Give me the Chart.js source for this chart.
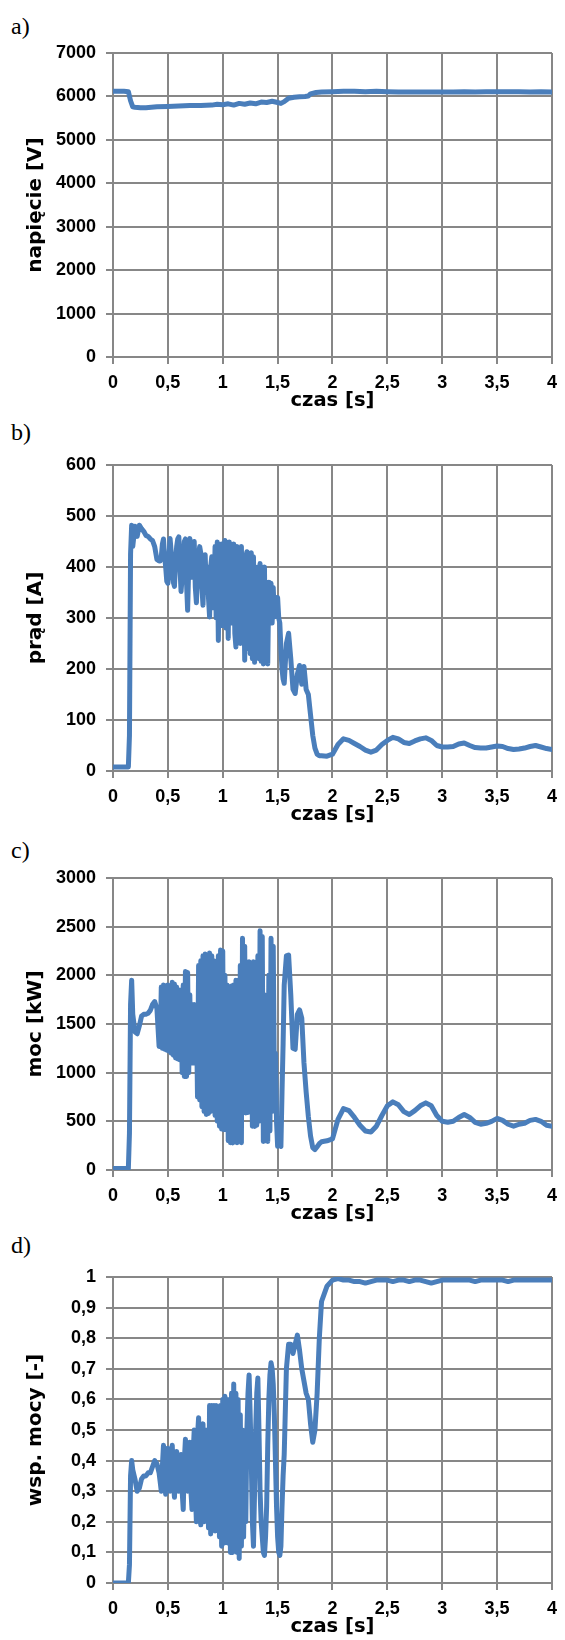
<!DOCTYPE html>
<html>
<head>
<meta charset="utf-8">
<script src="https://cdn.jsdelivr.net/npm/chart.js@4.4.0/dist/chart.umd.min.js"></script>
<style>
body { margin: 0; background: #fff; width: 565px; height: 1640px; position: relative; }
canvas { position: absolute; left: 0; }
.lbl { position: absolute; left: 11px; font-family: 'Liberation Serif'; font-size: 24px; line-height: 24px; color: #000; }
</style>
</head>
<body>
<div class="lbl" style="top:14px">a)</div>
<div class="lbl" style="top:420px">b)</div>
<div class="lbl" style="top:838px">c)</div>
<div class="lbl" style="top:1233px">d)</div>
<canvas id="napiecie" width="565" height="394" style="top:23px"></canvas>
<canvas id="prad" width="565" height="396" style="top:435px"></canvas>
<canvas id="moc" width="565" height="382" style="top:848px"></canvas>
<canvas id="wsp" width="565" height="396" style="top:1247px"></canvas>
<script>
// napiecie - own time points (smooth curve)
var czasU = [0, 0.05, 0.1, 0.14, 0.16, 0.18, 0.2, 0.25, 0.3, 0.4,
    0.5, 0.6, 0.7, 0.8, 0.9, 0.95, 1.0, 1.05, 1.1, 1.15,
    1.2, 1.25, 1.3, 1.35, 1.4, 1.45, 1.5, 1.53, 1.56, 1.6,
    1.65, 1.7, 1.75, 1.78, 1.8, 1.85, 1.9, 2.0, 2.1, 2.2,
    2.3, 2.4, 2.5, 2.6, 2.7, 2.8, 2.9, 3.0, 3.1, 3.2,
    3.3, 3.4, 3.5, 3.6, 3.7, 3.8, 3.9, 4.0];
var napiecie = [6120, 6120, 6120, 6110, 5900, 5760, 5750, 5740, 5740, 5760,
    5770, 5780, 5790, 5790, 5800, 5820, 5810, 5830, 5800, 5840,
    5820, 5850, 5830, 5870, 5860, 5890, 5860, 5840, 5880, 5960,
    5980, 5990, 6000, 6010, 6060, 6090, 6100, 6110, 6120, 6120,
    6110, 6120, 6110, 6100, 6100, 6100, 6100, 6100, 6100, 6110,
    6100, 6110, 6110, 6110, 6110, 6100, 6110, 6100];

// shared time points for prad, moc, wsp
var czas = [0, 0.05, 0.1, 0.14, 0.15, 0.16, 0.17, 0.18,
    0.20, 0.22, 0.24, 0.26, 0.28, 0.30, 0.32, 0.34, 0.36, 0.38, 0.40, 0.42,
    0.43, 0.44, 0.45, 0.46, 0.47, 0.48, 0.49, 0.50, 0.51, 0.52,
    0.53, 0.54, 0.55, 0.56, 0.57, 0.58, 0.59, 0.60, 0.61, 0.62,
    0.63, 0.64, 0.65, 0.66, 0.67, 0.68, 0.69, 0.70, 0.71, 0.72,
    0.73, 0.74, 0.75, 0.76, 0.77, 0.78, 0.79, 0.80, 0.81, 0.82,
    0.83, 0.84, 0.85, 0.86, 0.87, 0.88, 0.89, 0.90, 0.91, 0.92,
    0.93, 0.94, 0.95, 0.96, 0.97, 0.98, 0.99, 1.00, 1.01, 1.02,
    1.03, 1.04, 1.05, 1.06, 1.07, 1.08, 1.09, 1.10, 1.11, 1.12,
    1.13, 1.14, 1.15, 1.16, 1.17, 1.18, 1.19, 1.20, 1.21, 1.22,
    1.23, 1.24, 1.25, 1.26, 1.27, 1.28, 1.29, 1.30, 1.31, 1.32,
    1.33, 1.34, 1.35, 1.36, 1.37, 1.38, 1.39, 1.40, 1.41, 1.42,
    1.43, 1.44, 1.45, 1.46, 1.47, 1.48, 1.49, 1.50, 1.51, 1.52,
    1.53, 1.54, 1.55,
    1.56, 1.58, 1.60, 1.62, 1.64, 1.66, 1.68, 1.70, 1.72, 1.74,
    1.76, 1.78, 1.80, 1.82, 1.84, 1.86, 1.88, 1.90,
    1.95, 2.00, 2.05, 2.10, 2.15, 2.20, 2.25, 2.30, 2.35, 2.40,
    2.45, 2.50, 2.55, 2.60, 2.65, 2.70, 2.75, 2.80, 2.85, 2.90,
    2.95, 3.00, 3.05, 3.10, 3.15, 3.20, 3.25, 3.30, 3.35, 3.40,
    3.45, 3.50, 3.55, 3.60, 3.65, 3.70, 3.75, 3.80, 3.85, 3.90,
    3.95, 4.00];

var prad = [8, 8, 8, 8, 70, 425, 482, 440,
    480, 460, 482, 475, 470, 462, 460, 455, 452, 440, 415, 412,
    412, 420, 445, 455, 420, 400, 372, 368, 420, 456,
    430, 390, 370, 362, 410, 440, 455, 459, 400, 352,
    380, 420, 450, 455, 370, 315, 400, 456, 420, 380,
    440, 450, 360, 330, 390, 425, 440, 427, 360, 325,
    400, 424, 350, 400, 340, 302, 400, 420, 320, 330,
    440, 300, 449, 256, 430, 300, 445, 285, 440, 452,
    280, 440, 260, 449, 300, 430, 290, 445, 270, 243,
    440, 260, 421, 250, 440, 260, 415, 217, 420, 430,
    240, 410, 230, 428, 220, 420, 213, 395, 250, 400,
    220, 407, 215, 390, 210, 400, 215, 370, 210, 370,
    300, 368, 290, 360, 302, 340, 320, 340, 300, 290,
    240, 200, 180,
    172, 250, 270, 220, 160, 152, 190, 207, 170, 205,
    160, 150, 110, 70, 45, 33, 30, 30,
    29, 33, 52, 63, 60, 54, 48, 41, 37, 41,
    52, 60, 66, 63, 56, 54, 59, 63, 65, 60,
    50, 47, 47, 48, 53, 55, 50, 46, 45, 45,
    47, 49, 48, 44, 42, 43, 45, 48, 50, 47,
    44, 42];

var moc = [15, 15, 15, 15, 380, 1700, 1950, 1600,
    1420, 1400, 1480, 1580, 1600, 1600, 1610, 1640, 1700, 1730, 1660, 1270,
    1270, 1880, 1250, 1900, 1240, 1890, 1230, 1900, 1220, 1880,
    1200, 1930, 1180, 1910, 1150, 1880, 1140, 1850, 1130, 1850,
    1000, 1900, 960, 2040, 960, 2030, 1000, 1800, 1100, 1700,
    1100, 1700, 1100, 1650, 750, 2100, 720, 2150, 650, 2200,
    600, 2220, 570, 2200, 580, 2230, 600, 2200, 620, 2150,
    560, 2100, 500, 2200, 450, 2260, 420, 2250, 414, 2000,
    420, 1900, 300, 1880, 280, 1890, 277, 1900, 290, 1950,
    280, 1950, 300, 2100, 280, 2380, 600, 2300, 585, 1990,
    590, 2140, 600, 2100, 450, 2140, 448, 1900, 460, 2200,
    500, 2459, 600, 2400, 294, 1800, 300, 1200, 294, 2000,
    400, 2380, 600, 2300, 900, 1200, 500, 243, 260, 250,
    243, 800, 1300,
    1900, 2200, 2209, 1800, 1250, 1240, 1600, 1645, 1560, 1100,
    800, 550, 350, 230, 210, 240, 270, 290,
    300, 320, 520, 630, 610, 540, 460, 400, 390, 450,
    560, 660, 700, 670, 600, 570, 610, 660, 690, 660,
    560, 500, 490, 500, 540, 570, 540, 490, 470, 480,
    500, 530, 510, 470, 450, 470, 480, 510, 520, 500,
    460, 450];

var wsp = [0, 0, 0, 0, 0.06, 0.35, 0.40, 0.37,
    0.34, 0.30, 0.31, 0.34, 0.35, 0.35, 0.36, 0.36, 0.38, 0.40, 0.39, 0.36,
    0.33, 0.30, 0.38, 0.45, 0.35, 0.29, 0.36, 0.44, 0.38, 0.30,
    0.40, 0.45, 0.33, 0.28, 0.38, 0.43, 0.35, 0.30, 0.40, 0.42,
    0.30, 0.24, 0.40, 0.47, 0.36, 0.30, 0.38, 0.46, 0.30, 0.24,
    0.42, 0.50, 0.30, 0.20, 0.48, 0.54, 0.22, 0.19, 0.50, 0.52,
    0.20, 0.50, 0.22, 0.50, 0.18, 0.58, 0.16, 0.58, 0.20, 0.58,
    0.17, 0.58, 0.20, 0.55, 0.15, 0.58, 0.12, 0.60, 0.13, 0.61,
    0.15, 0.60, 0.13, 0.60, 0.10, 0.62, 0.10, 0.65, 0.12, 0.62,
    0.10, 0.60, 0.08, 0.55, 0.12, 0.50, 0.15, 0.45, 0.20, 0.50,
    0.62, 0.68, 0.55, 0.40, 0.20, 0.12, 0.30, 0.50, 0.62, 0.67,
    0.50, 0.30, 0.20, 0.15, 0.10, 0.09, 0.15, 0.25, 0.45, 0.60,
    0.68, 0.72, 0.70, 0.65, 0.55, 0.40, 0.25, 0.15, 0.10, 0.09,
    0.12, 0.25, 0.35,
    0.42, 0.70, 0.78, 0.78, 0.75, 0.78, 0.81, 0.76, 0.70, 0.66,
    0.62, 0.60, 0.52, 0.46, 0.50, 0.62, 0.80, 0.92,
    0.97, 0.99, 0.995, 0.99, 0.99, 0.985, 0.985, 0.98, 0.985, 0.99,
    0.99, 0.99, 0.985, 0.99, 0.99, 0.985, 0.99, 0.99, 0.985, 0.98,
    0.985, 0.99, 0.99, 0.99, 0.99, 0.99, 0.99, 0.985, 0.99, 0.99,
    0.99, 0.99, 0.99, 0.985, 0.99, 0.99, 0.99, 0.99, 0.99, 0.99,
    0.99, 0.99];

var gridColor = '#878787';
var lineColor = '#4a7ebb';
var tickFont = { family: 'Liberation Sans', size: 18, weight: 'bold' };
var xTitleFont = { family: 'DejaVu Sans', size: 19.5, weight: 'bold' };
var yTitleFont = { family: 'DejaVu Sans', size: 20, weight: 'bold' };

function comma(v) {
    return String(Math.round(v * 10) / 10).replace('.', ',');
}

function makeChart(id, times, values, yTitle, yMax, yStep) {
    var points = times.map(function (t, i) { return { x: t, y: values[i] }; });
    var ctx = document.getElementById(id);
    return new Chart(ctx, {
        type: 'line',
        data: {
            datasets: [{
                data: points,
                borderColor: lineColor,
                borderWidth: 5,
                borderJoinStyle: 'round',
                borderCapStyle: 'round',
                pointRadius: 0,
                tension: 0,
                fill: false
            }]
        },
        options: {
            animation: false,
            responsive: false,
            events: [],
            layout: { padding: { top: 30, right: 8, left: 0, bottom: 0 } },
            plugins: { legend: { display: false }, tooltip: { enabled: false } },
            scales: {
                x: {
                    type: 'linear', min: 0, max: 4,
                    ticks: { stepSize: 0.5, color: '#000', font: tickFont, padding: 8, maxRotation: 0, autoSkip: false, callback: comma },
                    grid: { color: gridColor, lineWidth: 2, tickLength: 7 },
                    border: { color: gridColor, width: 2 },
                    title: { display: true, text: 'czas [s]', color: '#000', font: xTitleFont, padding: { top: 0, bottom: 4 } },
                    afterFit: function (s) { s.height = 60; }
                },
                y: {
                    min: 0, max: yMax,
                    ticks: { stepSize: yStep, color: '#000', font: tickFont, padding: 10, callback: comma },
                    grid: { color: gridColor, lineWidth: 2, tickLength: 7 },
                    border: { color: gridColor, width: 2 },
                    title: { display: true, text: yTitle, color: '#000', font: yTitleFont, padding: { top: 24, bottom: 0 } },
                    afterFit: function (s) { s.width = 113; }
                }
            }
        }
    });
}

makeChart('napiecie', czasU, napiecie, 'napięcie [V]', 7000, 1000);
makeChart('prad', czas, prad, 'prąd [A]', 600, 100);
makeChart('moc', czas, moc, 'moc [kW]', 3000, 500);
makeChart('wsp', czas, wsp, 'wsp. mocy [-]', 1, 0.1);
</script>
</body>
</html>
